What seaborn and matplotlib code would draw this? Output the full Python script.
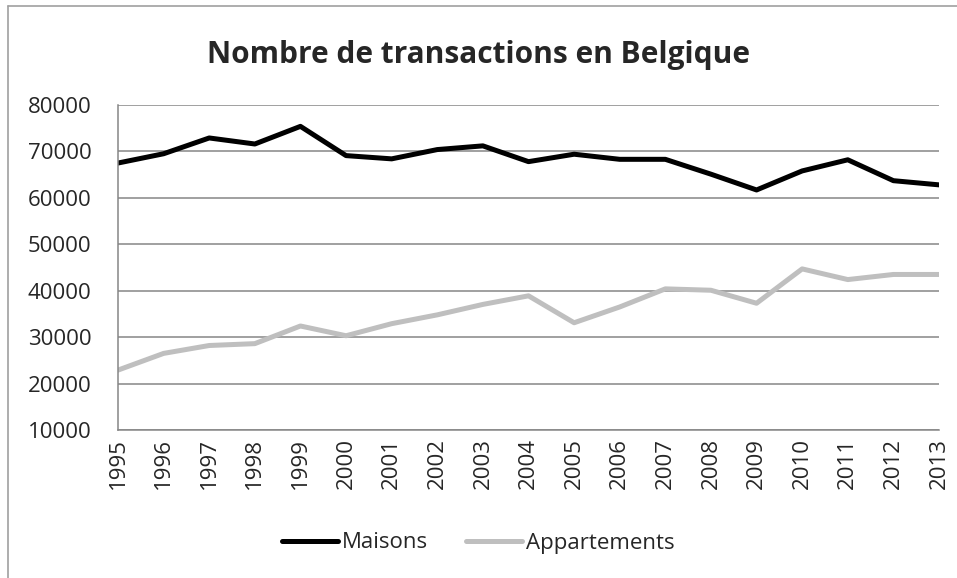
import pandas as pd
import matplotlib.pyplot as plt
import seaborn as sns
from matplotlib.lines import Line2D

# Data
years = list(range(1995, 2014))
maisons = [67500, 69500, 72900, 71600, 75400, 69100, 68400, 70400, 71200, 67800,
           69400, 68300, 68300, 65100, 61700, 65800, 68200, 63700, 62800]
appartements = [22900, 26500, 28200, 28600, 32400, 30300, 32900, 34800, 37050, 38900,
                33100, 36500, 40400, 40100, 37300, 44700, 42400, 43500, 43500]
series_names = ['Maisons', 'Appartements']
colors = ['#000000', '#BFBFBF']
y_ticks = list(range(10000, 80001, 10000))

df = pd.DataFrame({'annee': years * 2,
                   'valeur': maisons + appartements,
                   'type': [series_names[0]] * len(years) + [series_names[1]] * len(years)})

sns.set_style('white')
plt.rcParams['font.family'] = ['Open Sans', 'DejaVu Sans']

fig = plt.figure(figsize=(9.57, 5.78), dpi=100)
ax = fig.add_axes([118 / 957, 1 - 430 / 578, (939 - 118) / 957, (430 - 105) / 578])

sns.lineplot(data=df, x='annee', y='valeur', hue='type', palette=colors,
             linewidth=3.6, ax=ax, legend=False)
for line in ax.lines:
    line.set_solid_capstyle('round')

ax.set_xlim(1995, 2013)
ax.set_ylim(10000, 80000)
ax.set_yticks(y_ticks)
ax.set_yticklabels([str(v) for v in y_ticks], fontsize=16)
ax.set_xticks(years)
ax.set_xticklabels([str(y) for y in years], rotation=90, fontsize=16)
ax.set_xlabel('')
ax.set_ylabel('')

ax.grid(axis='y', color='#868686', linewidth=1.1)
ax.set_axisbelow(True)
for s in ['top', 'right']:
    ax.spines[s].set_visible(False)
for s in ['left', 'bottom']:
    ax.spines[s].set_color('#868686')
    ax.spines[s].set_linewidth(1.1)
ax.tick_params(axis='x', length=5, color='#868686', width=1.1, pad=1)
ax.tick_params(axis='y', length=0, pad=19)

fig.text(0.5, 1 - 55 / 578, 'Nombre de transactions en Belgique', ha='center', va='center',
         fontsize=21.5, fontweight='bold')

handles = [Line2D([0], [0], color=c, linewidth=3.6, solid_capstyle='round') for c in colors]
fig.legend(handles, series_names, loc='center', bbox_to_anchor=(0.5, 1 - 543 / 578),
           ncol=2, frameon=False, fontsize=16, handlelength=2.5, handletextpad=0.2,
           columnspacing=1.7)

# chart frame (only top and left edges visible)
fig.add_artist(Line2D([8 / 957, 1], [1 - 6 / 578, 1 - 6 / 578], color='#A0A0A0', linewidth=1.2))
fig.add_artist(Line2D([8 / 957, 8 / 957], [0, 1 - 6 / 578], color='#A0A0A0', linewidth=1.2))

fig.savefig('out.png', dpi=100)
